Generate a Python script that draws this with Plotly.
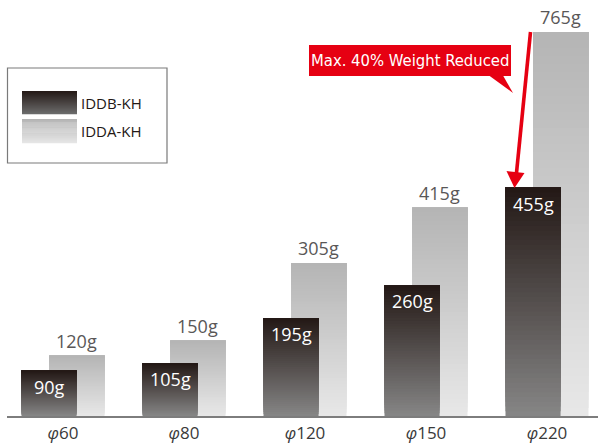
import plotly.graph_objects as go

# ---- data ----
sizes = ["60", "80", "120", "150", "220"]
iddb_kh = [90, 105, 195, 260, 455]
idda_kh = [120, 150, 305, 415, 765]
series_names = ["IDDB-KH", "IDDA-KH"]
callout_text = "Max. 40% Weight Reduced"

tick_labels = ["<i>φ</i>" + s for s in sizes]
xs = list(range(len(sizes)))

# ---- geometry / style ----
W_PX, H_PX = 598, 446
L, R, T, B = 7, 0, 0, 30
PW, PH = W_PX - L - R, H_PX - T - B
BW = 0.455
OFF_DARK = -0.343
OFF_LIGHT = -0.112
N = 48

DARK_TOP, DARK_BOT = (35, 24, 21), (134, 134, 134)
LIGHT_TOP, LIGHT_BOT = (180, 180, 180), (232, 232, 232)
FONT = "Open Sans"


def lerp(c0, c1, t):
    return "rgb(%d,%d,%d)" % tuple(round(a + (b - a) * t) for a, b in zip(c0, c1))


def px(x):
    return (x - L) / PW


def py(y):
    return (T + PH - y) / PH


fig = go.Figure()


def add_gradient_bars(values, offset, top, bottom):
    for k in range(N):
        f0 = k / N
        color = lerp(bottom, top, (k + 0.5) / N)
        fig.add_trace(go.Bar(
            x=xs, y=[v * (1 - f0) for v in values], base=[v * f0 for v in values],
            offset=offset, width=BW,
            marker=dict(color=color, line=dict(width=0)),
            showlegend=False, hoverinfo="skip"))


add_gradient_bars(idda_kh, OFF_LIGHT, LIGHT_TOP, LIGHT_BOT)
add_gradient_bars(iddb_kh, OFF_DARK, DARK_TOP, DARK_BOT)

annotations = []
# value labels above the light bars
for x, v in zip(xs, idda_kh):
    annotations.append(dict(x=x + OFF_LIGHT + BW / 2, y=v, xref="x", yref="y",
                            text=f"{v}g", showarrow=False, yanchor="bottom", yshift=1,
                            font=dict(family=FONT, size=18, color="#595757")))
# value labels inside the dark bars
for x, v in zip(xs, iddb_kh):
    annotations.append(dict(x=x + OFF_DARK + BW / 2, y=v, xref="x", yref="y",
                            text=f"{v}g", showarrow=False, yanchor="top", yshift=-2,
                            font=dict(family=FONT, size=18, color="white")))

shapes = []
# custom legend box
shapes.append(dict(type="rect", xref="paper", yref="paper",
                   x0=px(7.5), x1=px(167), y0=py(163), y1=py(68),
                   line=dict(color="#7a7a7a", width=1.2), fillcolor="rgba(0,0,0,0)"))
STRIPS = 23
for (y0, y1, top, bot) in [(91, 114, DARK_TOP, (108, 108, 108)), (119, 143, LIGHT_TOP, (230, 230, 230))]:
    h = (y1 - y0) / STRIPS
    for i in range(STRIPS):
        shapes.append(dict(type="rect", xref="paper", yref="paper",
                           x0=px(22), x1=px(77), y0=py(y0 + (i + 1) * h + 0.3), y1=py(y0 + i * h),
                           line=dict(width=0), fillcolor=lerp(top, bot, (i + 0.5) / STRIPS)))
for name, yc in zip(series_names, [103, 131]):
    annotations.append(dict(x=px(79), y=py(yc), xref="paper", yref="paper", text=name,
                            showarrow=False, xanchor="left", yanchor="middle",
                            font=dict(family=FONT, size=15, color="#231815")))

# callout box + pointer
RED = "#e60012"
shapes.append(dict(type="rect", xref="paper", yref="paper",
                   x0=px(309), x1=px(511), y0=py(76), y1=py(45),
                   line=dict(width=0), fillcolor=RED))
shapes.append(dict(type="path", xref="paper", yref="paper",
                   path="M %f,%f L %f,%f L %f,%f Z" % (px(489), py(75.5), px(503), py(75.5), px(513), py(93)),
                   line=dict(width=0), fillcolor=RED))
annotations.append(dict(x=px(410), y=py(60.5), xref="paper", yref="paper", text=callout_text,
                        showarrow=False, xanchor="center", yanchor="middle",
                        font=dict(family="DejaVu Sans Condensed, Liberation Sans Narrow, Open Sans",
                                  size=16.5, color="white")))
# red arrow
shapes.append(dict(type="line", xref="paper", yref="paper",
                   x0=px(530.5), y0=py(32), x1=px(516.2), y1=py(176),
                   line=dict(color=RED, width=3.6)))
shapes.append(dict(type="path", xref="paper", yref="paper",
                   path="M %f,%f L %f,%f L %f,%f Z" % (px(506.5), py(171), px(524.5), py(173), px(514.5), py(188)),
                   line=dict(width=0), fillcolor=RED))

fig.update_layout(
    width=W_PX, height=H_PX,
    margin=dict(l=L, r=R, t=T, b=B, autoexpand=False),
    barmode="overlay",
    plot_bgcolor="white", paper_bgcolor="white",
    showlegend=False, hovermode=False,
    shapes=shapes, annotations=annotations,
    xaxis=dict(range=[-(63 - L) / 121, -(63 - L) / 121 + PW / 121],
               tickvals=xs, ticktext=tick_labels, ticks="",
               showline=True, linecolor="#7d7d7d", linewidth=1.5,
               showgrid=False, zeroline=False, automargin=False,
               ticklabelstandoff=1,
               tickfont=dict(family=FONT, size=17, color="#3a3a3a")),
    yaxis=dict(range=[0, PH / 0.502], visible=False, fixedrange=True),
)

fig.write_html("out.html", config={"displayModeBar": False},
               post_script="document.body.style.margin='0';document.body.style.padding='0';")
